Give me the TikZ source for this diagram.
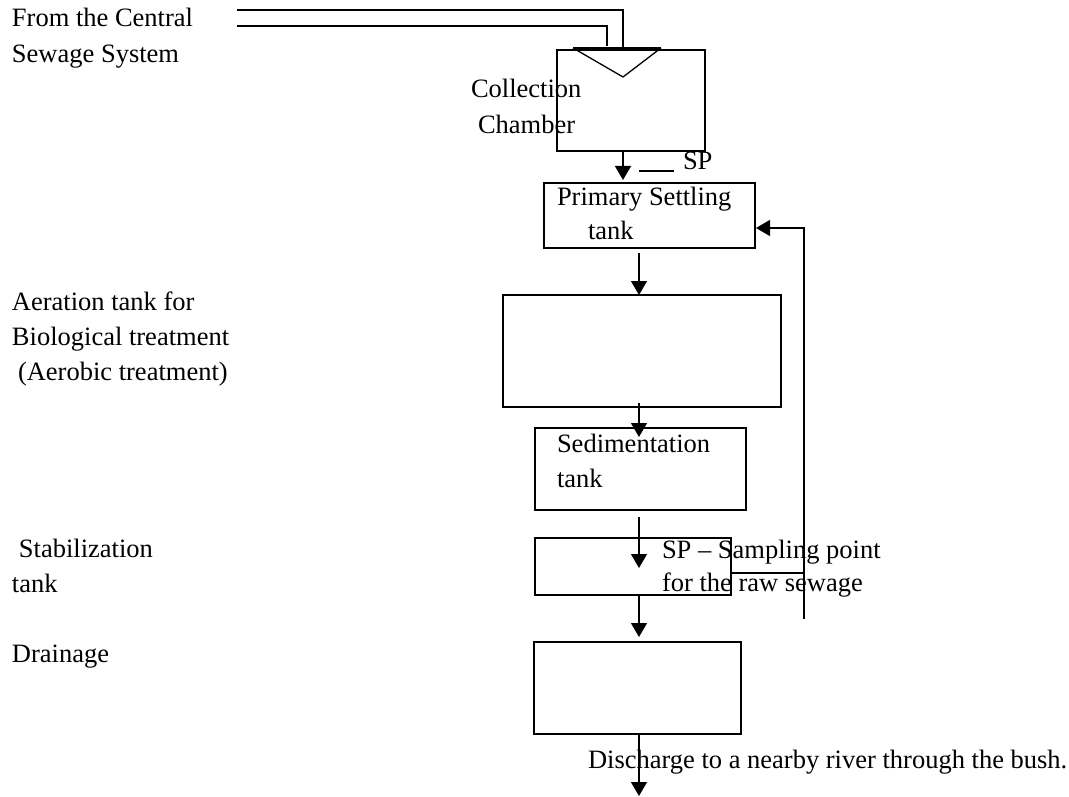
\documentclass[tikz,border=0pt]{standalone}
\usepackage{fontspec}
\setmainfont{Liberation Serif}
\usetikzlibrary{arrows.meta}
\begin{document}
\begin{tikzpicture}[x=1pt,y=-1pt,
  lw/.style={line width=1.3pt},
  box/.style={draw,lw,inner sep=0pt,outer sep=0pt},
  lbl/.style={anchor=base west,inner sep=0pt,outer sep=0pt,font=\fontsize{26.5}{35}\selectfont},
  flow/.style={lw,-{Triangle[width=16pt,length=14pt]}},
  pipe/.style={lw}
]
\useasboundingbox (0,0) rectangle (1069,797);

% boxes
\node[box,minimum width=148pt,minimum height=101pt] (cc) at (631,100.5) {};
\node[box,minimum width=211pt,minimum height=65pt] (ps) at (649.5,215.5) {};
\node[box,minimum width=278pt,minimum height=112pt] (at) at (642,351) {};
\node[box,minimum width=211pt,minimum height=82pt] (sd) at (640.5,469) {};
\node[box,minimum width=196pt,minimum height=57pt] (st) at (633,566.5) {};
\node[box,minimum width=207pt,minimum height=92pt] (dr) at (637.5,688) {};

% inlet pipes and funnel
\coordinate (p1a) at (237,10);
\coordinate (p1b) at (623,10);
\coordinate (p1c) at (623,48);
\coordinate (p2a) at (237,26);
\coordinate (p2b) at (607,26);
\coordinate (p2c) at (607,46);
\draw[pipe] (p1a) -- (p1b) -- (p1c);
\draw[pipe] (p2a) -- (p2b) -- (p2c);
\coordinate (fl) at (573,48);
\coordinate (fr) at (661,48);
\coordinate (fb) at (623,77);
\draw[lw] (fl) -- (fb) -- (fr);
\draw[line width=2.6pt] (fl) -- (fr);

% flow arrows
\coordinate (a1s) at (623,151);  \coordinate (a1e) at (623,180);
\coordinate (a2s) at (639,253);  \coordinate (a2e) at (639,295);
\coordinate (a3s) at (639,403);  \coordinate (a3e) at (639,437);
\coordinate (a4s) at (639,517);  \coordinate (a4e) at (639,568);
\coordinate (a5s) at (639,595);  \coordinate (a5e) at (639,637);
\coordinate (a6s) at (639,734);  \coordinate (a6e) at (639,796);
\draw[flow] (a1s) -- (a1e);
\draw[flow] (a2s) -- (a2e);
\draw[flow] (a3s) -- (a3e);
\draw[flow] (a4s) -- (a4e);
\draw[flow] (a5s) -- (a5e);
\draw[flow] (a6s) -- (a6e);

% return line
\coordinate (rb) at (804,619);
\coordinate (rt) at (804,228);
\coordinate (re) at (756,228);
\draw[flow] (rb) -- (rt) -- (re);
\coordinate (hs) at (731,573);
\coordinate (he) at (804,573);
\draw[lw] (hs) -- (he);

% SP mark
\coordinate (sps) at (639,171);
\coordinate (spe) at (674,171);
\draw[lw] (sps) -- (spe);

% labels
\node[lbl] (t1) at (12,27) {From the Central};
\node[lbl] (t2) at (12,63) {Sewage System};
\node[lbl] (c1) at (471,98) {Collection};
\node[lbl] (c2) at (478,134) {Chamber};
\node[lbl] (sp) at (683,170) {SP};
\node[lbl] (p1) at (557,205) {Primary Settling};
\node[lbl] (p2) at (588,240) {tank};
\node[lbl] (e1) at (12,310) {Aeration tank for};
\node[lbl] (e2) at (12,345) {Biological treatment};
\node[lbl] (e3) at (18,380) {(Aerobic treatment)};
\node[lbl] (s1) at (557,452) {Sedimentation};
\node[lbl] (s2) at (557,487) {tank};
\node[lbl] (b1) at (19,557) {Stabilization};
\node[lbl] (b2) at (12,592) {tank};
\node[lbl] (n1) at (662,558) {SP -- Sampling point};
\node[lbl] (n2) at (662,591) {for the raw sewage};
\node[lbl] (d1) at (12,662) {Drainage};
\node[lbl] (d2) at (588,768) {Discharge to a nearby river through the bush.};
\end{tikzpicture}
\end{document}
